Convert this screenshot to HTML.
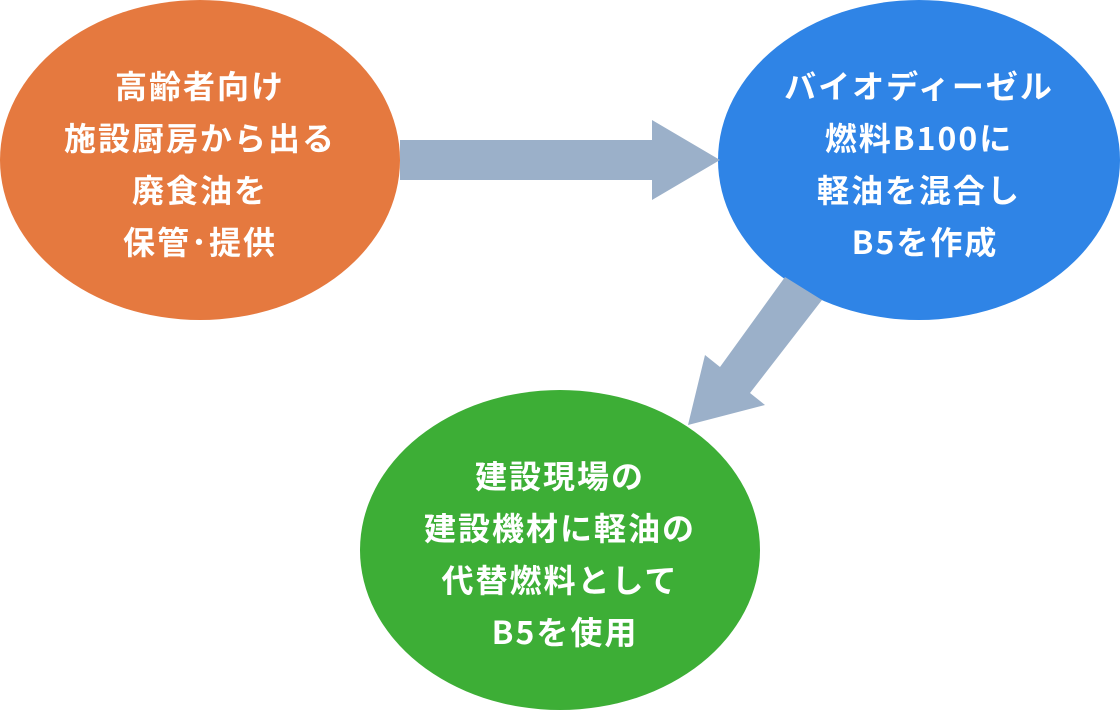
<!DOCTYPE html>
<html><head><meta charset="utf-8"><style>
html,body{margin:0;padding:0;background:#fff;}
svg text{font-family:"Noto Sans CJK JP","Liberation Sans",sans-serif;font-weight:bold;font-size:32px;fill:#fff;letter-spacing:2px;}
</style></head><body>
<svg width="1120" height="710" viewBox="0 0 1120 710" xmlns="http://www.w3.org/2000/svg">
<ellipse cx="200" cy="160" rx="200" ry="160" fill="#E5793F"/>
<ellipse cx="919" cy="160" rx="201" ry="160" fill="#2F84E6"/>
<ellipse cx="560" cy="550" rx="200" ry="160" fill="#3DAE36"/>
<polygon points="400,140 652,140 652,120 720,160 652,200 652,180 400,180" fill="#9BB0C9"/>
<polygon points="785,277 822,300 750,393 765,405 688,425 705,355 720,367" fill="#9BB0C9"/>
<g text-anchor="middle">
<text x="200" y="98">高齢者向け</text>
<text x="200" y="150">施設厨房から出る</text>
<text x="200" y="202">廃食油を</text>
<text x="200" y="254">保管･提供</text>
<text x="919" y="98">バイオディーゼル</text>
<text x="919" y="150">燃料B100に</text>
<text x="919" y="202">軽油を混合し</text>
<text x="925" y="254">B5を作成</text>
<text x="560" y="488">建設現場の</text>
<text x="560" y="540">建設機材に軽油の</text>
<text x="560" y="592">代替燃料として</text>
<text x="565" y="644">B5を使用</text>
</g>
</svg>
</body></html>
